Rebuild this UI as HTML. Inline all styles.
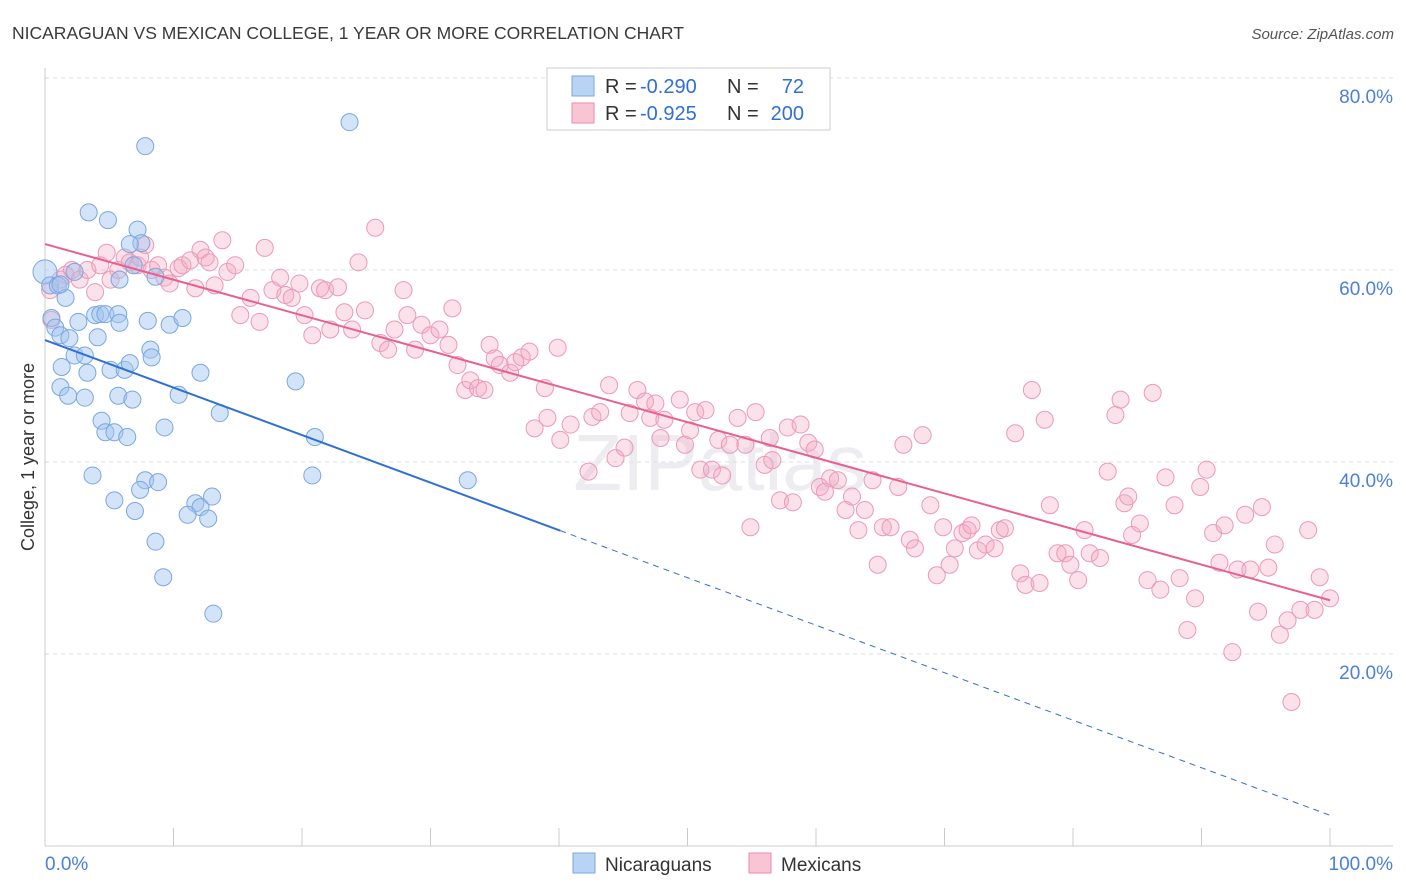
<!DOCTYPE html>
<html><head><meta charset="utf-8">
<style>
body{margin:0;background:#fff;font-family:"Liberation Sans",sans-serif;}
#wrap{position:relative;width:1406px;height:892px;overflow:hidden;}
</style></head>
<body>
<div id="wrap">
<svg id="chart" width="1406" height="892" xmlns="http://www.w3.org/2000/svg">
<text x="12" y="39" font-size="17.5" fill="#3a3a3a">NICARAGUAN VS MEXICAN COLLEGE, 1 YEAR OR MORE CORRELATION CHART</text>
<text x="1394" y="39" font-size="15" fill="#555" font-style="italic" text-anchor="end">Source: ZipAtlas.com</text>
<text x="720" y="490" font-size="80" fill="#ececf0" text-anchor="middle" opacity="0.9">ZIPatlas</text>
<g id="grid"></g>
<g id="axes"></g>
<g id="points"></g>
<g id="trends"></g>
<text transform="translate(34,457) rotate(-90)" font-size="18" fill="#333" text-anchor="middle">College, 1 year or more</text>
<g>
<rect x="547" y="68" width="283" height="62" fill="#fff" stroke="#ccc"/>
<rect x="572" y="76" width="22" height="20" fill="#b9d3f5" stroke="#7aa7e0"/>
<text x="605" y="93" font-size="20" fill="#333">R =</text>
<text x="640" y="93" font-size="20" fill="#2f6fd6">-0.290</text>
<text x="727" y="93" font-size="20" fill="#333">N =</text>
<text x="804" y="93" font-size="20" fill="#2f6fd6" text-anchor="end">72</text>
<rect x="572" y="103" width="22" height="20" fill="#f8c5d5" stroke="#ec8aa8"/>
<text x="605" y="120" font-size="20" fill="#333">R =</text>
<text x="640" y="120" font-size="20" fill="#2f6fd6">-0.925</text>
<text x="727" y="120" font-size="20" fill="#333">N =</text>
<text x="804" y="120" font-size="20" fill="#2f6fd6" text-anchor="end">200</text>
</g>
<g>
<rect x="573" y="853" width="22" height="20" fill="#b9d3f5" stroke="#7aa7e0"/>
<text x="605" y="871" font-size="19" fill="#333">Nicaraguans</text>
<rect x="749" y="853" width="22" height="20" fill="#f8c5d5" stroke="#ec8aa8"/>
<text x="781" y="871" font-size="19" fill="#333">Mexicans</text>
</g>
</svg>
</div>
<script>
const yTicks=[20,40,60,80];
const yTickLabels=["20.0%","40.0%","60.0%","80.0%"];
const xTicks=[0,10,20,30,40,50,60,70,80,90,100];
const xEndLabels=["0.0%","100.0%"];
const nicX=[0,0.4,1.0,1.6,0.5,0.8,1.2,1.9,2.3,3.1,1.3,3.3,2.6,3.9,4.3,4.7,5.7,4.1,5.8,1.2,1.8,3.1,5.1,6.2,6.6,4.4,4.7,5.4,6.4,5.7,6.8,8.0,9.7,10.7,8.2,8.3,12.1,10.4,9.3,13.6,19.5,3.7,7.8,8.8,7.4,5.4,7.0,11.7,12.1,13.0,11.1,12.7,8.6,9.2,13.1,7.8,3.4,4.9,7.2,7.5,6.9,5.8,8.6,23.7,21.0,20.8,32.9,1.2,2.3,6.6];
const nicY=[59.8,58.4,58.4,57.1,55.0,54.0,53.2,52.9,51.1,51.1,49.9,49.3,54.6,55.3,55.4,55.4,55.4,53.0,54.5,47.8,46.9,46.7,49.6,49.6,50.3,44.3,43.1,43.1,42.6,46.9,46.5,54.7,54.3,55.0,51.7,50.9,49.3,47.0,43.6,45.1,48.4,38.6,38.1,37.9,37.1,36.0,34.9,35.7,35.3,36.4,34.5,34.1,31.7,28.0,24.2,72.9,66.0,65.2,64.2,62.8,60.5,59.0,59.3,75.4,42.6,38.6,38.1,58.5,59.8,62.7];
const mexX=[0.4,0.5,1.2,1.6,2.1,2.7,3.3,3.9,4.3,4.8,5.1,5.7,6.2,6.6,7.2,7.4,7.8,8.3,8.8,9.3,9.7,10.4,10.7,11.3,11.7,12.1,12.5,12.8,13.2,13.8,14.2,14.8,15.2,16.0,16.7,17.1,17.7,18.3,18.7,19.2,19.8,20.2,20.8,21.4,21.8,22.8,22.2,23.3,23.9,24.4,24.9,25.7,26.1,26.7,27.2,27.9,28.2,28.8,29.3,30.0,30.7,31.4,31.7,32.1,32.7,33.1,33.7,34.2,34.6,35.0,35.4,36.2,36.6,37.1,37.7,38.9,39.9,38.1,39.1,40.1,40.9,42.3,42.6,43.2,43.9,44.4,45.1,45.5,46.1,46.7,47.1,47.5,47.9,48.2,49.4,49.8,50.2,50.6,51.0,51.4,51.9,52.4,52.7,53.3,53.9,54.5,54.9,55.3,56.0,56.4,56.6,57.2,57.8,58.2,58.8,59.4,59.9,60.3,60.7,61.1,61.7,62.3,62.8,63.3,63.8,64.4,64.8,65.2,65.8,66.4,66.8,67.3,67.7,68.3,68.9,69.4,69.9,70.4,70.8,71.4,71.8,72.1,72.6,73.2,73.9,74.3,74.7,75.5,75.9,76.3,76.8,77.4,77.8,78.2,78.8,79.4,79.8,80.4,80.9,81.3,82.1,82.7,83.3,83.7,84.0,84.3,84.6,85.2,85.8,86.2,86.8,87.2,87.9,88.3,88.9,89.5,89.9,90.4,90.9,91.4,91.8,92.4,92.8,93.4,93.8,94.4,94.7,95.2,95.7,96.1,96.7,97.0,97.7,98.3,98.8,99.2,100];
const mexY=[57.9,54.8,59.0,59.5,60.0,59.0,60.0,57.7,60.5,61.8,59.0,60.0,61.3,60.8,60.5,61.3,62.6,60.0,60.5,59.2,58.6,60.2,60.5,61.0,58.1,62.1,61.3,60.8,58.4,63.1,59.8,60.5,55.3,57.1,54.6,62.3,57.9,59.2,57.4,57.1,58.6,55.3,53.2,58.1,57.9,58.2,53.8,55.6,53.8,60.8,55.8,64.4,52.4,51.7,53.8,57.9,55.3,51.7,54.3,53.2,53.8,52.2,56.0,50.1,47.5,48.5,47.7,47.5,52.2,50.8,50.1,49.3,50.4,50.9,51.5,47.7,51.9,43.5,44.6,42.3,43.9,39.0,44.7,45.2,48.0,40.4,41.5,45.1,47.5,46.3,44.6,46.1,42.5,44.4,46.5,41.8,43.3,45.2,39.2,45.4,39.2,42.3,38.6,41.8,44.6,41.8,33.2,45.2,39.7,42.5,40.2,36.0,43.6,35.8,43.9,42.0,41.3,37.4,36.9,38.3,38.1,35.0,36.4,32.9,35.0,38.1,29.3,33.2,33.2,37.4,41.8,31.9,31.0,42.8,35.5,28.2,33.2,29.3,31.0,32.6,32.9,33.4,30.8,31.4,31.0,32.9,33.1,43.0,28.4,27.2,47.5,27.4,44.4,35.5,30.5,30.5,29.3,27.7,32.9,30.5,30.0,39.0,44.9,46.5,35.7,36.4,32.4,33.6,27.7,47.2,26.7,38.4,35.5,27.9,22.5,25.8,37.4,39.2,32.6,29.5,33.4,20.2,28.8,34.5,28.8,24.4,35.3,29.0,31.4,22.0,23.5,15.0,24.6,32.9,24.6,28.0,25.8];
const nicTrend=[52.7,3.2];   // y at x=0, y at x=100
const nicSolidEnd=40.1;
const mexTrend=[62.7,25.6];

const NS="http://www.w3.org/2000/svg";
const X0=45,X1=1330,Y0=846,Y80=78;
function sx(v){return X0+(X1-X0)*v/100;}
function sy(v){return Y0-(Y0-Y80)*v/80;}
function mk(tag,attrs,parent){const e=document.createElementNS(NS,tag);for(const k in attrs)e.setAttribute(k,attrs[k]);parent.appendChild(e);return e;}
const grid=document.getElementById('grid'),axes=document.getElementById('axes'),pts=document.getElementById('points'),tr=document.getElementById('trends');
yTicks.forEach((t,i)=>{
  const l=mk('line',{x1:X0,x2:1393,y1:sy(t),y2:sy(t),stroke:'#dedede','stroke-dasharray':'4,4'},grid);
  
  
  const tx=mk('text',{x:1393,y:sy(t)+25,'font-size':19,fill:'#4a80d8','text-anchor':'end'},grid);
  tx.textContent=yTickLabels[i];
  
  
});
const ya=mk('line',{x1:X0,x2:X0,y1:68,y2:Y0,stroke:'#ccc'},axes);


const xa=mk('line',{x1:X0,x2:1393,y1:Y0,y2:Y0,stroke:'#ccc'},axes);


xTicks.forEach(t=>{
  const l=mk('line',{x1:sx(t),x2:sx(t),y1:828,y2:Y0,stroke:'#ccc'},axes);
  
  
});
const xl0=mk('text',{x:45,y:870,'font-size':19,fill:'#4a80d8'},axes);
xl0.textContent=xEndLabels[0];


const xl1=mk('text',{x:1393,y:870,'font-size':19,fill:'#4a80d8','text-anchor':'end'},axes);
xl1.textContent=xEndLabels[1];



mexX.forEach((v,i)=>{
  const c=mk('circle',{cx:sx(v),cy:sy(mexY[i]),r:8.5,fill:'rgba(244,170,196,0.35)',stroke:'#ec9ab4','stroke-width':1},pts);
  
  
});
nicX.forEach((v,i)=>{
  const c=mk('circle',{cx:sx(v),cy:sy(nicY[i]),r:i===0?12:8.5,fill:'rgba(160,195,240,0.45)',stroke:'#7aa7e0','stroke-width':1},pts);
  
  
});
function ty(tr,x){return tr[0]+(tr[1]-tr[0])*x/100;}
const n1=mk('line',{x1:sx(0),y1:sy(ty(nicTrend,0)),x2:sx(nicSolidEnd),y2:sy(ty(nicTrend,nicSolidEnd)),stroke:'#2f6fd6','stroke-width':2},tr);


const n2=mk('line',{x1:sx(nicSolidEnd),y1:sy(ty(nicTrend,nicSolidEnd)),x2:sx(100),y2:sy(ty(nicTrend,100)),stroke:'#2f6fd6','stroke-width':1,'stroke-dasharray':'6,5'},tr);


const m1=mk('line',{x1:sx(0),y1:sy(ty(mexTrend,0)),x2:sx(100),y2:sy(ty(mexTrend,100)),stroke:'#e8608f','stroke-width':2},tr);


</script>
</body></html>
